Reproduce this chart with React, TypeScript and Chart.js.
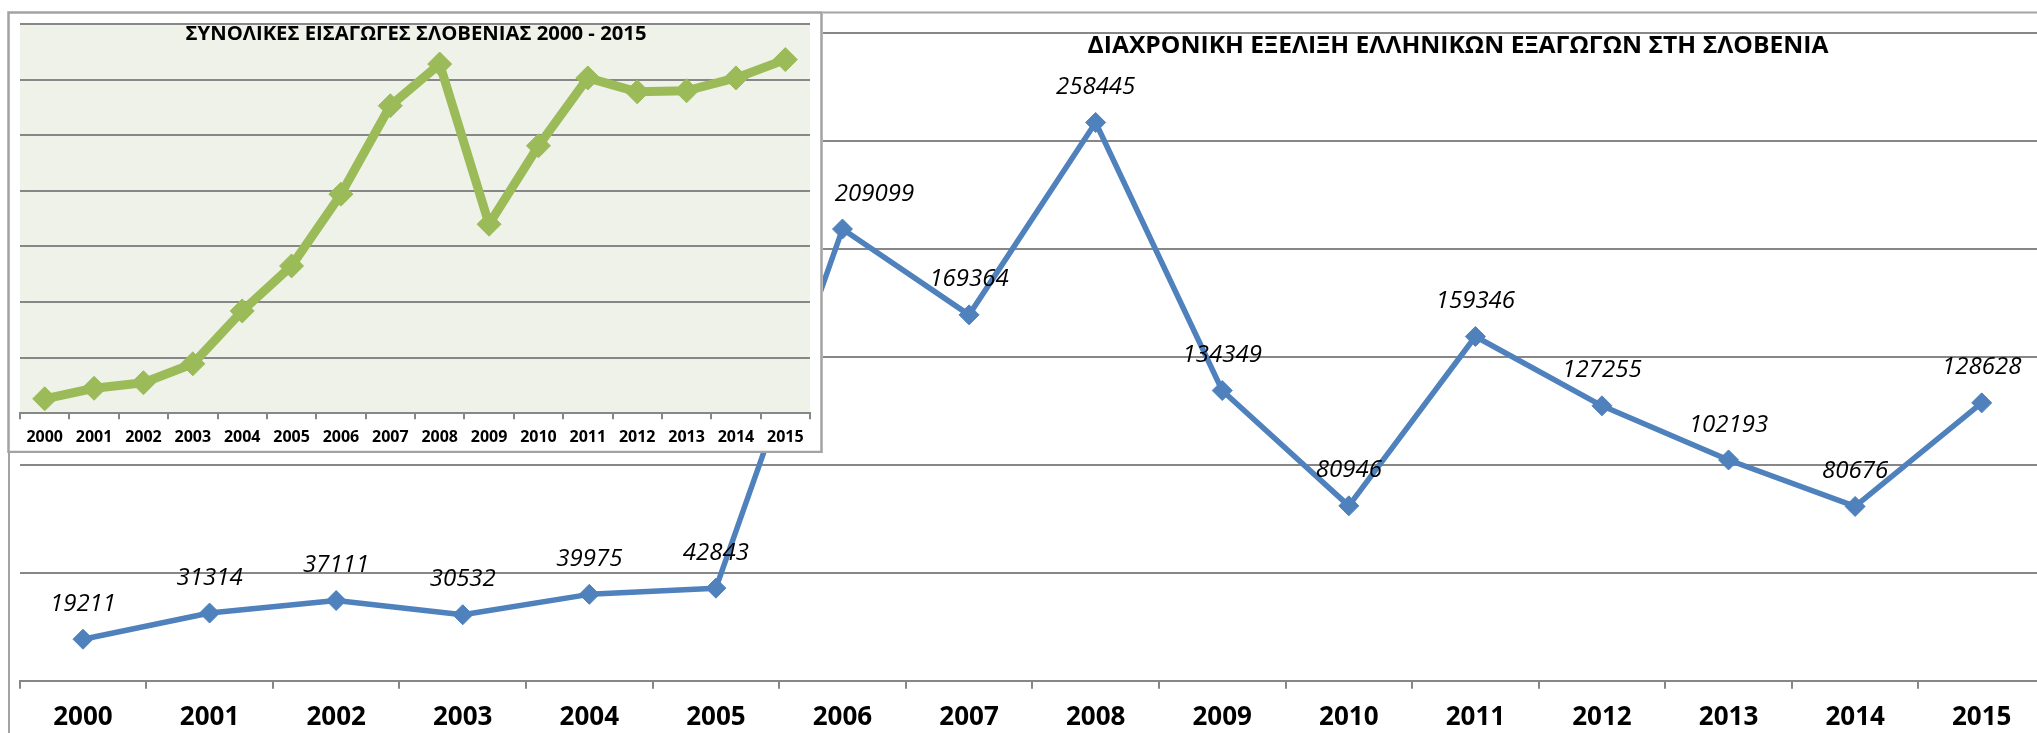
import React, { useEffect, useRef } from "react";
import { Chart, registerables } from "chart.js";

Chart.register(...registerables);

const years = ["2000", "2001", "2002", "2003", "2004", "2005", "2006", "2007", "2008", "2009", "2010", "2011", "2012", "2013", "2014", "2015"];
const greekExports = [19211, 31314, 37111, 30532, 39975, 42843, 209099, 169364, 258445, 134349, 80946, 159346, 127255, 102193, 80676, 128628];
const sloveniaImports = [0.26, 0.45, 0.55, 0.89, 1.84, 2.65, 3.94, 5.53, 6.28, 3.4, 4.81, 6.03, 5.78, 5.8, 6.03, 6.36];
const mainTitle = "ΔΙΑΧΡΟΝΙΚΗ ΕΞΕΛΙΞΗ ΕΛΛΗΝΙΚΩΝ ΕΞΑΓΩΓΩΝ ΣΤΗ ΣΛΟΒΕΝΙΑ";
const insetTitle = "ΣΥΝΟΛΙΚΕΣ ΕΙΣΑΓΩΓΕΣ ΣΛΟΒΕΝΙΑΣ 2000 - 2015";
const mainYMin = 0;
const mainYMax = 300000;
const mainYStep = 50000;
const insetYMin = 0;
const insetYMax = 7;
const insetYStep = 1;

const GRID = "#878787";
const BORDER = "#a3a3a3";
const BLUE = "#4F81BD";
const GREEN = "#9BBB59";
const FONT = '"Open Sans", "Noto Sans", sans-serif';

function drawFitted(ctx: CanvasRenderingContext2D, text: string, cx: number, capMid: number, size: number, targetW: number) {
  ctx.save();
  ctx.font = `bold ${size}px ${FONT}`;
  const w = ctx.measureText(text).width;
  ctx.translate(cx, capMid + size * 0.357);
  ctx.scale(targetW / w, 1);
  ctx.textAlign = "center";
  ctx.textBaseline = "alphabetic";
  ctx.fillStyle = "#000";
  ctx.fillText(text, 0, 0);
  ctx.restore();
}

const mainPlugin = {
  id: "mainDeco",
  beforeDraw(chart: any) {
    const ctx = chart.ctx as CanvasRenderingContext2D;
    ctx.save();
    ctx.fillStyle = "#fff";
    ctx.fillRect(0, 0, chart.width, chart.height);
    ctx.strokeStyle = BORDER;
    ctx.lineWidth = 2;
    ctx.strokeRect(9, 12.5, chart.width + 50, chart.height + 50);
    ctx.restore();
  },
  afterDatasetsDraw(chart: any) {
    const ctx = chart.ctx as CanvasRenderingContext2D;
    const meta = chart.getDatasetMeta(0);
    ctx.save();
    ctx.font = `italic 24px ${FONT}`;
    ctx.fillStyle = "#000";
    ctx.textAlign = "center";
    ctx.textBaseline = "alphabetic";
    meta.data.forEach((pt: any, i: number) => {
      const dx = i === 6 ? 32 : 0;
      ctx.fillText(String(greekExports[i]), pt.x + dx, pt.y - 37 + 24 * 0.357);
    });
    ctx.restore();
  },
  afterDraw(chart: any) {
    drawFitted(chart.ctx, mainTitle, 1458, 45, 23.5, 741);
  },
};

const insetPlugin = {
  id: "insetDeco",
  beforeDraw(chart: any) {
    const ctx = chart.ctx as CanvasRenderingContext2D;
    const a = chart.chartArea;
    ctx.save();
    ctx.fillStyle = "#fff";
    ctx.fillRect(0, 0, chart.width, chart.height);
    ctx.fillStyle = "#EEF2E8";
    ctx.fillRect(a.left, a.top, a.right - a.left, a.bottom - a.top);
    ctx.restore();
  },
  afterDraw(chart: any) {
    const ctx = chart.ctx as CanvasRenderingContext2D;
    ctx.save();
    ctx.strokeStyle = BORDER;
    ctx.lineWidth = 2.5;
    ctx.strokeRect(1.5, 1.5, chart.width - 3, chart.height - 2.5);
    ctx.restore();
    drawFitted(ctx, insetTitle, 416 - 7, 33 - 11, 19.5, 461);
  },
};

export default function App() {
  const mainRef = useRef<HTMLCanvasElement>(null);
  const insetRef = useRef<HTMLCanvasElement>(null);

  useEffect(() => {
    const main = new Chart(mainRef.current!, {
      type: "line",
      data: {
        labels: years,
        datasets: [
          {
            data: greekExports,
            borderColor: BLUE,
            backgroundColor: BLUE,
            borderWidth: 5.5,
            borderJoinStyle: "round",
            pointStyle: "rectRot",
            pointRadius: 10,
            pointBorderWidth: 1,
            pointBorderColor: BLUE,
            pointBackgroundColor: BLUE,
            tension: 0,
          },
        ],
      },
      options: {
        animation: false,
        responsive: false,
        devicePixelRatio: 1,
        layout: { padding: { left: 19.7, right: 9.7, top: 32.7, bottom: 0 } },
        plugins: { legend: { display: false }, tooltip: { enabled: false }, title: { display: false } },
        scales: {
          x: {
            offset: true,
            afterFit: (s: any) => {
              s.height = 52.3;
            },
            grid: { offset: true, drawOnChartArea: false, drawTicks: true, tickLength: 8, color: GRID, lineWidth: 2 },
            border: { color: GRID, width: 2 },
            ticks: { color: "#000", font: { family: FONT, size: 26, weight: "bold" }, padding: 13, maxRotation: 0, autoSkip: false },
          },
          y: {
            min: mainYMin,
            max: mainYMax,
            afterFit: (s: any) => {
              s.width = 0;
            },
            ticks: { display: false, stepSize: mainYStep },
            grid: { color: GRID, lineWidth: 2, drawTicks: false },
            border: { display: false },
          },
        },
      },
      plugins: [mainPlugin],
    } as any);

    const inset = new Chart(insetRef.current!, {
      type: "line",
      data: {
        labels: years,
        datasets: [
          {
            data: sloveniaImports,
            borderColor: GREEN,
            backgroundColor: GREEN,
            borderWidth: 9,
            borderJoinStyle: "round",
            pointStyle: "rectRot",
            pointRadius: 12,
            pointBorderWidth: 1,
            pointBorderColor: GREEN,
            pointBackgroundColor: GREEN,
            tension: 0,
          },
        ],
      },
      options: {
        animation: false,
        responsive: false,
        devicePixelRatio: 1,
        layout: { padding: { left: 11.5, right: 10.9, top: 11.3, bottom: 0 } },
        plugins: { legend: { display: false }, tooltip: { enabled: false }, title: { display: false } },
        scales: {
          x: {
            offset: true,
            afterFit: (s: any) => {
              s.height = 39.7;
            },
            grid: { offset: true, drawOnChartArea: false, drawTicks: true, tickLength: 6, color: GRID, lineWidth: 2 },
            border: { color: GRID, width: 2 },
            ticks: { color: "#000", font: { family: FONT, size: 16, weight: "bold" }, padding: 9, maxRotation: 0, autoSkip: false },
          },
          y: {
            min: insetYMin,
            max: insetYMax,
            afterFit: (s: any) => {
              s.width = 0;
            },
            ticks: { display: false, stepSize: insetYStep },
            grid: { color: GRID, lineWidth: 2, drawTicks: false },
            border: { display: false },
          },
        },
      },
      plugins: [insetPlugin],
    } as any);

    return () => {
      main.destroy();
      inset.destroy();
    };
  }, []);

  return (
    <div style={{ position: "absolute", left: 0, top: 0, width: 2037, height: 733, overflow: "hidden", background: "#fff" }}>
      <canvas ref={mainRef} width={2056} height={733} style={{ position: "absolute", left: 0, top: 0, width: 2056, height: 733 }} />
      <canvas ref={insetRef} width={816} height={442} style={{ position: "absolute", left: 7, top: 11, width: 816, height: 442 }} />
    </div>
  );
}
